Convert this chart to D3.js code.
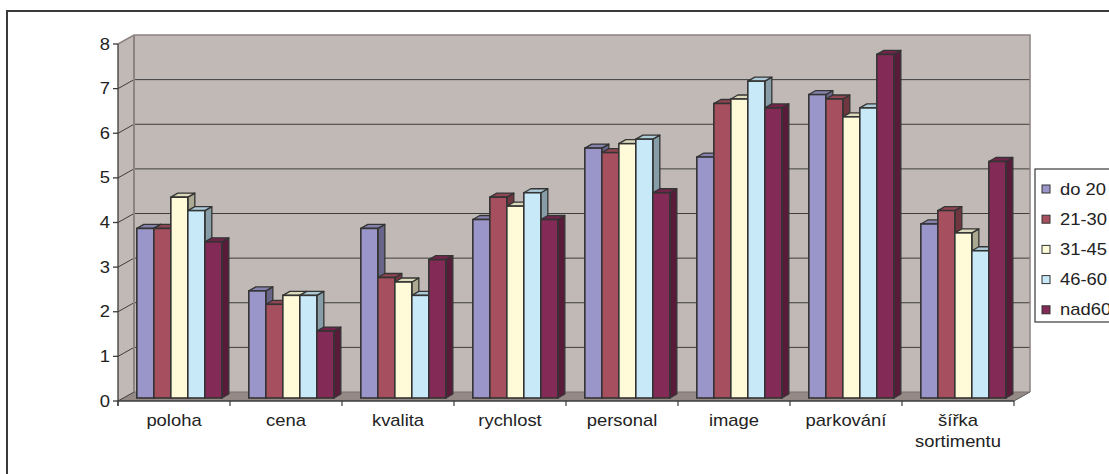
<!DOCTYPE html>
<html>
<head>
<meta charset="utf-8">
<script src="https://cdn.jsdelivr.net/npm/d3@7"></script>
<style>
  html, body { margin: 0; padding: 0; background: #fff; }
  svg { display: block; font-family: "Liberation Sans", Arial, sans-serif; }
</style>
</head>
<body>
<svg id="chart" width="1109" height="474"></svg>
<script>
// Categories and age groups
const categories = ["poloha", "cena", "kvalita", "rychlost", "personal", "image", "parkování", "šířka sortimentu"];
const seriesNames = ["do 20", "21-30", "31-45", "46-60", "nad60"];

// Average rating per category, one array per age group
const do20  = [3.8, 2.4, 3.8, 4.0, 5.6, 5.4, 6.8, 3.9];
const v21_30 = [3.8, 2.1, 2.7, 4.5, 5.5, 6.6, 6.7, 4.2];
const v31_45 = [4.5, 2.3, 2.6, 4.3, 5.7, 6.7, 6.3, 3.7];
const v46_60 = [4.2, 2.3, 2.3, 4.6, 5.8, 7.1, 6.5, 3.3];
const nad60 = [3.5, 1.5, 3.1, 4.0, 4.6, 6.5, 7.7, 5.3];
const seriesValues = [do20, v21_30, v31_45, v46_60, nad60];

const yTicks = [0, 1, 2, 3, 4, 5, 6, 7, 8];
const colors = ["#9b96c9", "#a6505f", "#fffad8", "#c8e9f8", "#832a56"];

const svg = d3.select("#chart");

// Front plane scales
const x = d3.scaleBand().domain(categories).range([118, 1014]).paddingInner(0.241).paddingOuter(0.1205);
const xs = d3.scaleBand().domain(seriesNames).range([0, x.bandwidth()]);
const y = d3.scaleLinear().domain([0, 8]).range([401, 44]);
const step = x.step();
const x0 = 118, x1 = 118 + step * categories.length;

// Oblique depth of the walls
const DX = 16, DY = -9;
const depth = f => [DX * f, DY * f];

// Outer frame
svg.append("rect").attr("x", 7).attr("y", 11).attr("width", 1300).attr("height", 600)
  .attr("fill", "none").attr("stroke", "#3a3a3a").attr("stroke-width", 2);

// Back wall
const wallFill = "#c1b9b6";
const edge = "#8d8380";
svg.append("rect")
  .attr("x", x0 + DX).attr("y", y(8) + DY)
  .attr("width", x1 - x0).attr("height", y(0) - y(8))
  .attr("fill", wallFill);
// Left side wall
svg.append("path")
  .attr("d", `M${x0},${y(0)} L${x0},${y(8)} L${x0 + DX},${y(8) + DY} L${x0 + DX},${y(0) + DY} Z`)
  .attr("fill", wallFill);
// Floor
svg.append("path")
  .attr("d", `M${x0},${y(0)} L${x1},${y(0)} L${x1 + DX},${y(0) + DY} L${x0 + DX},${y(0) + DY} Z`)
  .attr("fill", "#958985");

// Gridlines on the back wall and the left wall
yTicks.filter(t => t > 0 && t < 8).forEach(t => {
  svg.append("line")
    .attr("x1", x0 + DX).attr("x2", x1 + DX)
    .attr("y1", y(t) + DY).attr("y2", y(t) + DY)
    .attr("stroke", "#3d3d3d").attr("stroke-width", 1);
});
yTicks.filter(t => t < 8).forEach(t => {
  svg.append("line")
    .attr("x1", x0).attr("y1", y(t))
    .attr("x2", x0 + DX).attr("y2", y(t) + DY)
    .attr("stroke", "#3d3d3d").attr("stroke-width", 1);
});

// Wall edges
svg.append("path")
  .attr("d", `M${x0},${y(8)} L${x0 + DX},${y(8) + DY} L${x1 + DX},${y(8) + DY} L${x1 + DX},${y(0) + DY}`)
  .attr("fill", "none").attr("stroke", edge).attr("stroke-width", 1.5);
svg.append("line")
  .attr("x1", x0 + DX).attr("x2", x0 + DX)
  .attr("y1", y(8) + DY).attr("y2", y(0) + DY)
  .attr("stroke", edge).attr("stroke-width", 2);
svg.append("line")
  .attr("x1", x0 + DX).attr("x2", x1 + DX)
  .attr("y1", y(0) + DY).attr("y2", y(0) + DY)
  .attr("stroke", "#7d7370").attr("stroke-width", 1);
svg.append("line")
  .attr("x1", x1).attr("y1", y(0))
  .attr("x2", x1 + DX).attr("y2", y(0) + DY)
  .attr("stroke", "#5a5a5a").attr("stroke-width", 1);

// Bars, drawn left to right so later faces cover hidden sides
const [fx, fy] = depth(1 / 3);
const [bx, by] = [7, -4];
const barStroke = "#343434";
categories.forEach((c, ci) => {
  seriesNames.forEach((s, si) => {
    const v = seriesValues[si][ci];
    const left = x(c) + xs(s) + fx;
    const right = left + xs.bandwidth();
    const top = y(v) + fy;
    const bottom = y(0) + fy;
    const col = d3.color(colors[si]);
    const g = svg.append("g");
    // side face
    g.append("path")
      .attr("d", `M${right},${bottom} L${right},${top} L${right + bx},${top + by} L${right + bx},${bottom + by} Z`)
      .attr("fill", col.darker(1.1)).attr("stroke", barStroke).attr("stroke-width", 1.3).attr("stroke-linejoin", "round");
    // top face
    g.append("path")
      .attr("d", `M${left},${top} L${right},${top} L${right + bx},${top + by} L${left + bx},${top + by} Z`)
      .attr("fill", col.darker(0.4)).attr("stroke", barStroke).attr("stroke-width", 1.3).attr("stroke-linejoin", "round");
    // front face
    g.append("rect")
      .attr("x", left).attr("y", top)
      .attr("width", xs.bandwidth()).attr("height", bottom - top)
      .attr("fill", col).attr("stroke", barStroke).attr("stroke-width", 1.6);
  });
});

// Value axis
svg.append("line")
  .attr("x1", x0).attr("x2", x0).attr("y1", y(8)).attr("y2", y(0) + 5)
  .attr("stroke", "#3a3a3a").attr("stroke-width", 1.3);
const stretch = "scale(1.15,1)";
yTicks.forEach(t => {
  svg.append("line")
    .attr("x1", x0 - 5).attr("x2", x0).attr("y1", y(t)).attr("y2", y(t))
    .attr("stroke", "#3a3a3a").attr("stroke-width", 1.3);
  svg.append("text")
    .attr("transform", `translate(${x0 - 8},${y(t)}) ${stretch}`)
    .attr("text-anchor", "end").attr("dominant-baseline", "central")
    .attr("font-size", 16).attr("fill", "#222")
    .text(t);
});

// Category axis
svg.append("line")
  .attr("x1", x0).attr("x2", x1).attr("y1", y(0)).attr("y2", y(0))
  .attr("stroke", "#3a3a3a").attr("stroke-width", 1.3);
d3.range(categories.length + 1).forEach(i => {
  svg.append("line")
    .attr("x1", x0 + step * i).attr("x2", x0 + step * i)
    .attr("y1", y(0)).attr("y2", y(0) + 5)
    .attr("stroke", "#3a3a3a").attr("stroke-width", 1.2);
});
categories.forEach(c => {
  const words = c.split(" ");
  const cx = x(c) + x.bandwidth() / 2;
  words.forEach((w, wi) => {
    svg.append("text")
      .attr("transform", `translate(${cx},${426 + wi * 21}) ${stretch}`)
      .attr("text-anchor", "middle")
      .attr("font-size", 16).attr("fill", "#222")
      .text(w);
  });
});

// Legend
const legend = svg.append("g");
legend.append("rect")
  .attr("x", 1035).attr("y", 169).attr("width", 120).attr("height", 153)
  .attr("fill", "#fff").attr("stroke", "#3a3a3a").attr("stroke-width", 1.2);
seriesNames.forEach((s, i) => {
  const cy = 189 + i * 30.2;
  legend.append("rect")
    .attr("x", 1042).attr("y", cy - 4).attr("width", 8).attr("height", 8)
    .attr("fill", colors[i]).attr("stroke", "#333").attr("stroke-width", 1);
  legend.append("text")
    .attr("transform", `translate(1060,${cy}) ${stretch}`)
    .attr("dominant-baseline", "central")
    .attr("font-size", 16).attr("fill", "#222")
    .text(s);
});
</script>
</body>
</html>
